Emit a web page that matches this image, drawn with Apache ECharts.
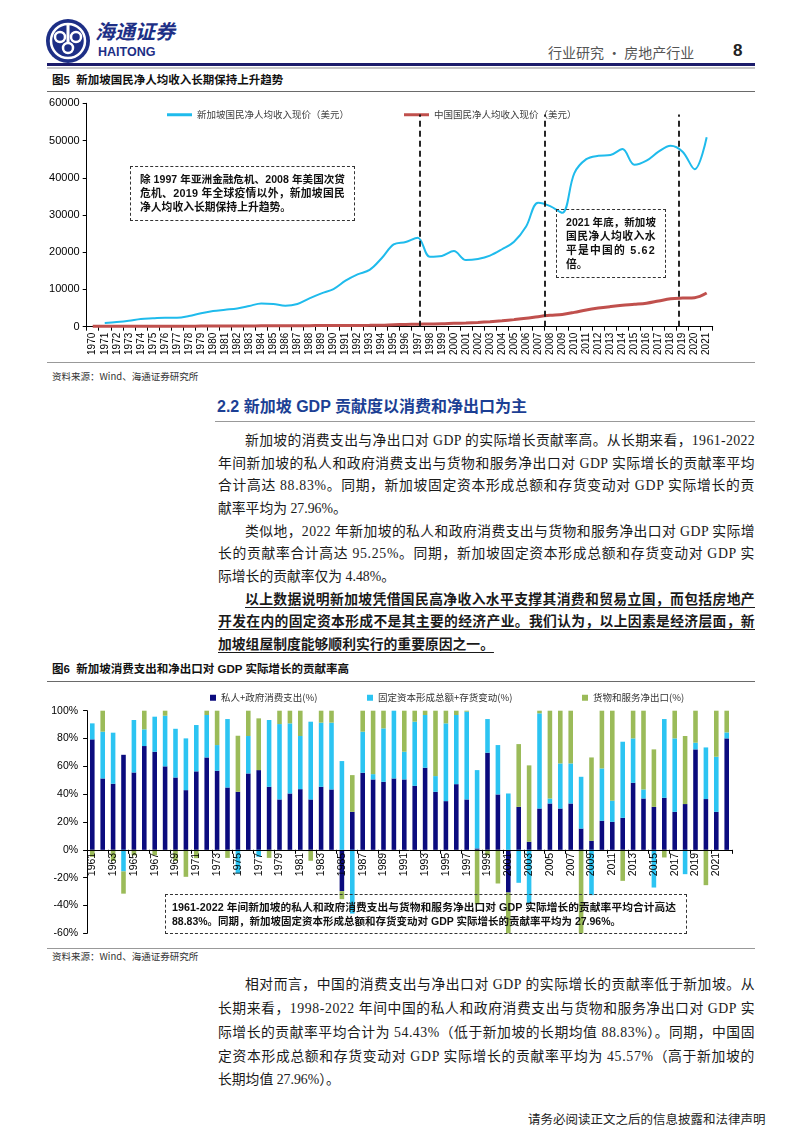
<!DOCTYPE html>
<html><head><meta charset="utf-8">
<script src="https://cdn.jsdelivr.net/npm/echarts/dist/echarts.min.js"></script>
<style>
html,body{margin:0;padding:0;background:#fff;}
#page{position:relative;width:802px;height:1133px;overflow:hidden;font-family:"Liberation Serif","Noto Sans CJK SC",serif;color:#1a1a1a;}
.t{position:absolute;white-space:nowrap;line-height:1;}
.ln{position:absolute;left:218px;font-size:13.8px;line-height:16px;height:16px;white-space:nowrap;}
.ln.ind{left:245px;}
.ln.b{font-weight:bold;text-decoration:underline;text-underline-offset:3px;}
.rule{position:absolute;left:47px;width:708px;height:1px;background:#6a6a6a;}
.box{position:absolute;border:1.5px dashed #333;box-sizing:border-box;}
.bl{position:absolute;font-family:"Liberation Sans","Noto Sans CJK SC",sans-serif;font-weight:bold;font-size:10.8px;line-height:14px;height:14px;color:#111;white-space:nowrap;}
.figt{position:absolute;left:52px;font-family:"Liberation Sans","Noto Sans CJK SC",sans-serif;font-weight:bold;font-size:11.5px;line-height:14px;color:#111;white-space:nowrap;}
.src{position:absolute;left:52px;font-family:"Noto Sans CJK SC",sans-serif;font-size:9.5px;color:#333;line-height:12px;}
</style></head>
<body><div id="page">
<!-- header -->
<svg class="t" style="left:44px;top:17px" width="48" height="48" viewBox="0 0 48 48">
  <circle cx="24" cy="24" r="22" fill="#1d2f86"/>
  <circle cx="24" cy="24" r="17" fill="none" stroke="#fff" stroke-width="2.5"/>
  <circle cx="16" cy="20" r="5" fill="none" stroke="#fff" stroke-width="2.5"/>
  <circle cx="32" cy="20" r="5" fill="none" stroke="#fff" stroke-width="2.5"/>
  <circle cx="24" cy="31" r="5" fill="none" stroke="#fff" stroke-width="2.5"/>
  <rect x="22.5" y="6" width="3" height="20" fill="#fff"/>
</svg>
<div class="t" style="left:95px;top:21px;font-family:'Noto Sans CJK SC';font-weight:bold;font-style:italic;font-size:20px;color:#1d2f86;">海通证券</div>
<div class="t" style="left:98px;top:46px;font-family:'Liberation Sans';font-weight:bold;font-size:12.5px;color:#1d2f86;">HAITONG</div>
<div class="t" style="left:548px;top:45px;font-family:'Noto Sans CJK SC';font-size:14px;color:#555;">行业研究 · 房地产行业</div>
<div class="t" style="left:733px;top:42px;font-family:'Liberation Sans';font-weight:bold;font-size:17px;color:#222;">8</div>
<div style="position:absolute;left:47px;top:63px;width:708px;height:2.5px;background:#1c1c6b"></div>
<div style="position:absolute;left:47px;top:67px;width:708px;height:1.5px;background:#c8c8c8"></div>

<div class="figt" style="top:73px;">图5&nbsp;&nbsp;新加坡国民净人均收入长期保持上升趋势</div>
<div class="rule" style="top:91px;"></div>
<div id="c1" style="position:absolute;left:0;top:95px;width:802px;height:265px;"></div>
<div class="box" style="left:130px;top:166px;width:225px;height:55px;"></div>
<div class="bl fit" data-w="205" style="left:140px;top:172px;">除 1997 年亚洲金融危机、2008 年美国次贷</div>
<div class="bl fit" data-w="205" style="left:140px;top:186px;">危机、2019 年全球疫情以外，新加坡国民</div>
<div class="bl" style="left:140px;top:200px;">净人均收入长期保持上升趋势。</div>
<div class="box" style="left:556px;top:209px;width:110px;height:69px;"></div>
<div class="bl fit" data-w="90" style="left:566px;top:215px;">2021 年底，新加坡</div>
<div class="bl fit" data-w="90" style="left:566px;top:229px;">国民净人均收入水</div>
<div class="bl fit" data-w="90" style="left:566px;top:243px;">平是中国的 5.62</div>
<div class="bl" style="left:566px;top:257px;">倍。</div>
<div class="rule" style="top:362px;background:#999;"></div>
<div class="src" style="top:370px;">资料来源：Wind、海通证券研究所</div>

<div class="t" style="left:217px;top:399px;font-family:'Liberation Sans','Noto Sans CJK SC';font-weight:bold;font-size:16px;color:#1c3f94;">2.2 新加坡 GDP 贡献度以消费和净出口为主</div>
<div style="position:absolute;left:215px;top:421px;width:540px;height:1px;background:#999"></div>

<div class="ln ind fit" data-w="510" style="top:433px;">新加坡的消费支出与净出口对 GDP 的实际增长贡献率高。从长期来看，1961-2022</div>
<div class="ln fit" data-w="537" style="top:456px;">年间新加坡的私人和政府消费支出与货物和服务净出口对 GDP 实际增长的贡献率平均</div>
<div class="ln fit" data-w="537" style="top:478px;">合计高达 88.83%。同期，新加坡固定资本形成总额和存货变动对 GDP 实际增长的贡</div>
<div class="ln" style="top:501px;">献率平均为 27.96%。</div>
<div class="ln ind fit" data-w="510" style="top:524px;">类似地，2022 年新加坡的私人和政府消费支出与货物和服务净出口对 GDP 实际增</div>
<div class="ln fit" data-w="537" style="top:546px;">长的贡献率合计高达 95.25%。同期，新加坡固定资本形成总额和存货变动对 GDP 实</div>
<div class="ln" style="top:569px;">际增长的贡献率仅为 4.48%。</div>
<div class="ln ind b fit" data-w="510" style="top:592px;">以上数据说明新加坡凭借国民高净收入水平支撑其消费和贸易立国，而包括房地产</div>
<div class="ln b fit" data-w="537" style="top:614px;">开发在内的固定资本形成不是其主要的经济产业。我们认为，以上因素是经济层面，新</div>
<div class="ln b" style="top:637px;">加坡组屋制度能够顺利实行的重要原因之一。</div>

<div class="figt" style="top:662px;">图6&nbsp;&nbsp;新加坡消费支出和净出口对 GDP 实际增长的贡献率高</div>
<div class="rule" style="top:681px;"></div>
<div id="c2" style="position:absolute;left:0;top:685px;width:802px;height:262px;"></div>
<div class="box" style="left:165px;top:894px;width:522px;height:40px;"></div>
<div class="bl fit" data-w="504" style="left:172px;top:900px;">1961-2022 年间新加坡的私人和政府消费支出与货物和服务净出口对 GDP 实际增长的贡献率平均合计高达</div>
<div class="bl" style="left:172px;top:914px;font-size:10.5px;">88.83%。同期，新加坡固定资本形成总额和存货变动对 GDP 实际增长的贡献率平均为 27.96%。</div>
<div class="rule" style="top:948px;background:#999;"></div>
<div class="src" style="top:950px;">资料来源：Wind、海通证券研究所</div>

<div class="ln ind fit" data-w="510" style="top:977px;">相对而言，中国的消费支出与净出口对 GDP 的实际增长的贡献率低于新加坡。从</div>
<div class="ln fit" data-w="537" style="top:1001px;">长期来看，1998-2022 年间中国的私人和政府消费支出与货物和服务净出口对 GDP 实</div>
<div class="ln fit" data-w="537" style="top:1025px;">际增长的贡献率平均合计为 54.43%（低于新加坡的长期均值 88.83%）。同期，中国固</div>
<div class="ln fit" data-w="537" style="top:1049px;">定资本形成总额和存货变动对 GDP 实际增长的贡献率平均为 45.57%（高于新加坡的</div>
<div class="ln" style="top:1072px;">长期均值 27.96%）。</div>

<div class="t" style="left:528px;top:1113px;font-family:'Noto Sans CJK SC';font-size:12.5px;color:#222;">请务必阅读正文之后的信息披露和法律声明</div>
</div>

<script>
// fit single-line text to a target width
document.querySelectorAll('.fit').forEach(el => {
  const w = parseFloat(el.dataset.w);
  let nat = el.getBoundingClientRect().width;
  if (nat > w) {
    const fs = parseFloat(getComputedStyle(el).fontSize);
    el.style.fontSize = (fs * w / nat * 0.995) + 'px';
    nat = el.getBoundingClientRect().width;
  }
  const n = [...el.textContent].length;
  el.style.letterSpacing = ((w - nat) / n) + 'px';
});

// ---------- Figure 5 data ----------
const years1 = ['1970','1971','1972','1973','1974','1975','1976','1977','1978','1979',
 '1980','1981','1982','1983','1984','1985','1986','1987','1988','1989',
 '1990','1991','1992','1993','1994','1995','1996','1997','1998','1999',
 '2000','2001','2002','2003','2004','2005','2006','2007','2008','2009',
 '2010','2011','2012','2013','2014','2015','2016','2017','2018','2019',
 '2020','2021'];
const sgName = '新加坡国民净人均收入现价（美元）';
const cnName = '中国国民净人均收入现价（美元）';
const sgIncome = [null,1000,1250,1600,2100,2250,2400,2400,2850,3600,
 4200,4550,4900,5550,6250,6100,5650,6100,7600,8950,
 10100,12350,14050,15250,18400,22100,22750,23900,18800,19000,
 20300,17900,18200,19100,20800,22800,26900,33300,32400,30600,
 41200,45000,45900,46100,47700,43500,44600,47000,48600,47000,
 42300,50900];
const cnIncome = [100,105,110,120,125,130,130,140,145,160,
 175,180,185,200,230,260,250,250,280,300,
 300,310,340,360,400,530,620,680,720,760,
 900,1000,1150,1350,1600,1900,2250,2700,3050,3300,
 3850,4500,5000,5400,5750,6000,6300,6900,7500,7700,
 7800,9050];
// annotation dashed lines (positions on the year scale)
const crisisMarks = [1997.2, 2007.55, 2018.7];
const crisisTop = 57000;

// ---------- Figure 6 data ----------
const years2 = ['1961','1962','1963','1964','1965','1966','1967','1968','1969','1970',
 '1971','1972','1973','1974','1975','1976','1977','1978','1979','1980',
 '1981','1982','1983','1984','1985','1986','1987','1988','1989','1990',
 '1991','1992','1993','1994','1995','1996','1997','1998','1999','2000',
 '2001','2002','2003','2004','2005','2006','2007','2008','2009','2010',
 '2011','2012','2013','2014','2015','2016','2017','2018','2019','2020',
 '2021','2022'];
const consName = '私人+政府消费支出(%)';
const invName = '固定资本形成总额+存货变动(%)';
const nxName = '货物和服务净出口(%)';
const consumption = [79.4,51.3,47.5,68.3,55.6,74.6,70.5,60,52,42.9,
 56.4,66.4,56.8,44.8,41.7,54.9,57.3,45.3,36.2,40.5,
 43.6,36.2,45.3,43.4,-29.7,27.3,55.4,50.6,48.9,51.3,
 50.6,46,59,41.7,35,47.2,36.2,1,69.8,39.8,
 -30.7,30.9,5.8,29.7,33.3,29.7,33.3,15.3,6.5,20.9,
 20.1,23,48.2,36.9,30.9,37.4,27.3,32.9,72.2,36.5,
 27.3,80.1];
const investment = [11.5,33.6,36.7,-15.5,37.7,12,25.2,36.4,35,37.2,
 33.3,30.5,18.5,49.2,-17,26.9,-5,48,54.2,50.4,
 38.2,55.9,46.1,48,63.8,-45.8,29.5,3.8,38.4,48.7,
 19.9,46.1,37.9,11.3,55.9,49.7,63.1,56.3,24.2,35.5,
 40.5,-23.7,-38.6,68.4,3.6,32.4,28.8,37.2,-32.6,37.6,
 15.2,54.7,31.9,6.5,-27.1,56.6,52.8,-17.5,4.8,37.1,
 39.6,4.3];
const netExport = [-5,15.1,-8,-16,-4,13.4,-4,3.6,-8,-19.4,
 -6,3.1,24.7,-5.8,40.3,18.2,37.2,-5.8,9.6,9.1,
 18.2,-7.9,8.6,8.6,-5.8,26.4,15.1,45.6,12.7,0,
 29.5,7.9,3.1,47,9.1,3.1,0.7,-39.1,-4,-24.2,
 -29.5,45.1,54.9,1.9,63.1,37.9,37.9,-60,59.9,41.5,
 64.7,-22.3,19.9,56.6,41.3,-5.5,19.9,48.9,23,-25.4,
 33.1,15.6];
const yMin2 = -60, yMax2 = 100;

const latin = 'Liberation Sans';
const cjk = 'Noto Sans CJK SC';

const c1 = echarts.init(document.getElementById('c1'), null, {renderer:'canvas'});
c1.setOption({
  animation:false,
  textStyle:{fontFamily:latin},
  legend:{left:162, top:10, itemWidth:25, itemHeight:3, itemGap:55, icon:'rect',
    textStyle:{fontSize:9.5, color:'#404040', fontFamily:cjk},
    data:[{name:sgName},{name:cnName}]},
  grid:{left:86.7, top:8.3, width:626, height:223.4, containLabel:false},
  xAxis:[{type:'category', data:years1, boundaryGap:true,
      axisLine:{lineStyle:{color:'#000', width:1}},
      axisTick:{show:true, length:4, lineStyle:{color:'#000'}},
      axisLabel:{interval:0, rotate:90, fontSize:10, color:'#000', margin:6, fontFamily:latin}},
    {type:'value', min:1969.5, max:2021.5, show:false}],
  yAxis:{type:'value', min:0, max:60000, interval:10000,
    axisLine:{show:true, lineStyle:{color:'#000'}},
    axisTick:{show:true, length:4, lineStyle:{color:'#000'}},
    splitLine:{show:false},
    axisLabel:{fontSize:11, color:'#000', margin:7, fontFamily:latin, formatter: v => String(v)}},
  series:[
    {name:sgName, type:'line', data:sgIncome, smooth:0.35, symbol:'none',
      lineStyle:{color:'#1fbbec', width:2}, itemStyle:{color:'#1fbbec'}, z:3},
    {name:cnName, type:'line', data:cnIncome, smooth:0.35, symbol:'none',
      lineStyle:{color:'#c0504d', width:3}, itemStyle:{color:'#c0504d'}, z:3},
    {name:'marks', type:'line', xAxisIndex:1, yAxisIndex:0,
      data:[[crisisMarks[0],0]], symbol:'none', lineStyle:{opacity:0}, silent:true,
      markLine:{symbol:'none', silent:true, label:{show:false},
        lineStyle:{type:[6,4], color:'#111', width:1.8},
        data: crisisMarks.map(x => [{coord:[x,0]},{coord:[x,crisisTop]}])}}
  ]
});

const grid2H = 222.6;
const legendCommon = {top:3, itemWidth:6, itemHeight:6, icon:'rect', itemGap:4,
  textStyle:{fontSize:9.5, color:'#333', fontFamily:cjk}};
const c2 = echarts.init(document.getElementById('c2'), null, {renderer:'canvas'});
c2.setOption({
  animation:false,
  textStyle:{fontFamily:latin},
  legend:[Object.assign({left:205, data:[consName]}, legendCommon),
          Object.assign({left:362, data:[invName]}, legendCommon),
          Object.assign({left:577, data:[nxName]}, legendCommon)],
  grid:{left:87.1, top:25.7, width:644.8, height:grid2H, containLabel:false},
  xAxis:{type:'category', data:years2, boundaryGap:true, position:'bottom', z:10,
    offset: -grid2H * (0 - yMin2) / (yMax2 - yMin2),
    axisLine:{onZero:false, lineStyle:{color:'#000'}},
    axisTick:{show:true, length:4, lineStyle:{color:'#000'}},
    axisLabel:{interval:1, rotate:90, fontSize:10.5, color:'#000', margin:3, fontFamily:latin}},
  yAxis:{type:'value', min:yMin2, max:yMax2, interval:20,
    axisLine:{show:true, lineStyle:{color:'#000'}},
    axisTick:{show:true, length:4, lineStyle:{color:'#000'}},
    splitLine:{show:false},
    axisLabel:{formatter:'{value}%', fontSize:10.5, color:'#000', margin:9, fontFamily:latin}},
  series:[
    {name:consName, type:'bar', stack:'g', data:consumption, barWidth:'44%', clip:true,
      itemStyle:{color:'#0b0b7e'}},
    {name:invName, type:'bar', stack:'g', data:investment, barWidth:'44%', clip:true,
      itemStyle:{color:'#2cc4f2'}},
    {name:nxName, type:'bar', stack:'g', data:netExport, barWidth:'44%', clip:true,
      itemStyle:{color:'#9bbb59'}}
  ]
});
</script>
</body></html>
